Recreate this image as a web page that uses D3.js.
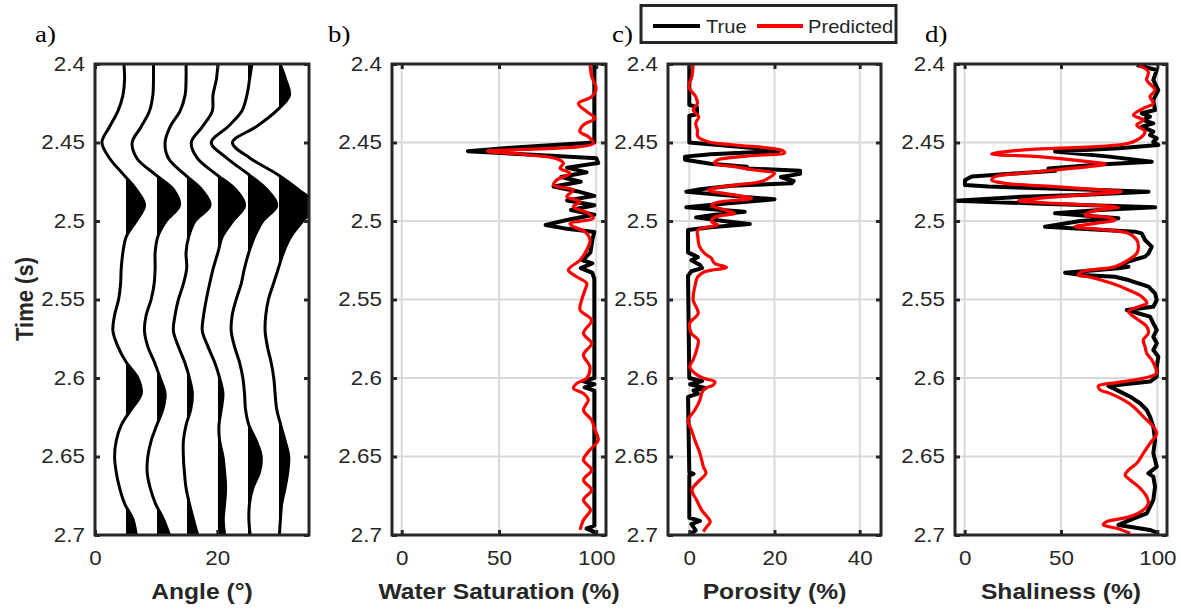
<!DOCTYPE html>
<html>
<head>
<meta charset="utf-8">
<script src="https://cdn.jsdelivr.net/npm/d3@7"></script>
<style>
  html, body { margin: 0; padding: 0; background: #ffffff; }
  svg { display: block; }
</style>
</head>
<body>
<svg id="chart" width="1181" height="612"></svg>
<script>
// ---------------- DATA ----------------
const timeTicks = [2.4, 2.45, 2.5, 2.55, 2.6, 2.65, 2.7];
const timeTickLabels = ["2.4", "2.45", "2.5", "2.55", "2.6", "2.65", "2.7"];

const angleTicks = [0, 20];
const swTicks = [0, 50, 100];
const porTicks = [0, 20, 40];
const shTicks = [0, 50, 100];

const panelLetters = ["a)", "b)", "c)", "d)"];
const axisTitles = ["Angle (°)", "Water Saturation (%)", "Porosity (%)", "Shaliness (%)"];
const legendNames = ["True", "Predicted"];

// seismic angle gather (amplitudes, arbitrary units)
const traceTime = [2.40,2.41,2.42,2.43,2.44,2.45,2.46,2.47,2.48,2.49,2.50,2.51,2.52,2.53,2.54,2.55,2.56,2.57,2.58,2.59,2.60,2.61,2.62,2.63,2.64,2.65,2.66,2.67,2.68,2.69,2.70];
const traceAngles = [5, 10, 15, 20, 25, 30];
const amp05 = [-5,-3,-8,-23,-48,-71,-48,-8,32,57,32,2,-8,-13,-15,-21,-33,-38,-23,2,37,47,17,-13,-28,-33,-28,-18,-3,22,32];
const amp10 = [-8,-8,-10,-20,-45,-72,-58,-5,52,70,30,5,-3,-3,-6,-15,-30,-35,-25,-5,12,27,20,2,-15,-25,-27,-18,-2,22,40];
const amp15 = [-2,-2,-5,-20,-50,-65,-55,-8,45,70,25,6,-2,0,-10,-25,-35,-40,-25,-6,8,17,12,-2,-10,-10,-7,-2,8,20,33];
const amp20 = [2,-3,-13,-15,-45,-78,-60,-5,55,82,47,15,2,-12,-23,-33,-41,-45,-28,-8,7,17,12,5,7,17,22,25,22,18,22];
const amp25 = [12,5,-3,-18,-60,-110,-63,0,57,87,45,20,3,-10,-20,-35,-47,-50,-40,-25,-15,-10,-7,3,25,40,35,15,5,3,7];
const amp30 = [5,22,33,-7,-67,-138,-85,-5,60,110,73,37,15,0,-15,-30,-38,-40,-33,-22,-14,-10,-5,7,20,31,28,20,10,6,3];

// water saturation (%)
const swTrueT = [2.400,2.450,2.453,2.4555,2.458,2.460,2.463,2.466,2.469,2.472,2.475,2.478,2.481,2.484,2.487,2.490,2.493,2.496,2.499,2.5025,2.505,2.507,2.512,2.520,2.525,2.527,2.530,2.533,2.537,2.600,2.602,2.604,2.606,2.608,2.610,2.694,2.696,2.698,2.700];
const swTrueV = [99,99,60,34,70,100,101,85,95,82,92,78,90,99,85,99,87,99,86,74,85,99,98,97,93,98,92,98,99,99,93,99,94,99,99,99,95,99,99];
const swPredT = [2.4007,2.4081,2.4155,2.4208,2.4251,2.4303,2.4346,2.4388,2.4431,2.4463,2.4505,2.4555,2.4575,2.4605,2.4633,2.4664,2.4696,2.4739,2.4771,2.4803,2.4845,2.4877,2.4909,2.4951,2.4983,2.5015,2.5036,2.5068,2.5121,2.5185,2.5248,2.5312,2.5355,2.5397,2.5439,2.5503,2.5567,2.5631,2.5716,2.5779,2.5853,2.5928,2.6002,2.6034,2.6066,2.6098,2.6140,2.6204,2.6268,2.6331,2.6395,2.6459,2.6522,2.6586,2.6650,2.6713,2.6777,2.6841,2.6904,2.6968];
const swPredV = [96.8,97.7,99.9,97.7,90.8,95.1,99.3,93.4,91.6,95.9,98.5,44,62,80,83.1,81.4,86.5,79.7,78.0,88.2,84.8,91.7,88.2,95.9,98.5,86.5,88.2,94.2,96.8,95.1,91.7,85.7,89.9,95.1,94.2,92.5,91.7,97.6,93.4,97.6,93.4,96.7,95.1,90.0,88.3,93.4,95.9,93.4,97.6,99.3,101,96.7,93.4,97.6,93.4,97.6,93.4,97.0,93.4,91.7];

// porosity (%)
const porTrueT = [2.400,2.426,2.4275,2.432,2.433,2.450,2.4535,2.4555,2.4575,2.459,2.461,2.4635,2.4655,2.4665,2.468,2.470,2.472,2.4745,2.476,2.4775,2.480,2.4813,2.484,2.4862,2.489,2.4913,2.4941,2.496,2.4977,2.500,2.5019,2.504,2.5057,2.520,2.523,2.525,2.528,2.530,2.532,2.535,2.600,2.602,2.604,2.6065,2.608,2.610,2.612,2.660,2.661,2.662,2.689,2.691,2.693,2.697,2.700];
const porTrueV = [0,0,1.8,1.8,0,0,15,21,5,-1,-1,5,13.5,13.5,26,26,21.5,24.5,24,10,2,-0.7,10,20,8,-0.7,13,6,1.6,8,14.2,5,-0.3,-0.3,2.0,0.5,2.5,3,0.5,-0.3,0,3,0.2,3.8,1,2,-0.3,0,1,0,0,2.5,0.5,1.5,0];
const porPredT = [2.4007,2.4081,2.4145,2.4208,2.4251,2.4293,2.4335,2.4378,2.4420,2.4463,2.4495,2.4516,2.4548,2.4565,2.4586,2.4611,2.4633,2.4654,2.4675,2.4696,2.4717,2.4749,2.4771,2.4803,2.4834,2.4856,2.4877,2.4898,2.4930,2.4951,2.4977,2.5004,2.5025,2.5057,2.5100,2.5163,2.5206,2.5237,2.5269,2.5295,2.5323,2.5355,2.5418,2.5503,2.5588,2.5652,2.5716,2.5758,2.5822,2.5885,2.5928,2.5970,2.6002,2.6023,2.6045,2.6066,2.6098,2.6140,2.6204,2.6268,2.6331,2.6395,2.6480,2.6565,2.6607,2.6660,2.6713,2.6777,2.6841,2.6915,2.6947,2.6979];
const porPredV = [0.9,0.6,-0.1,1.5,1.9,0.9,2.2,1.5,1.9,2.0,4.4,10.6,21.6,22.4,13.8,6.7,5.9,10.6,15.3,20.0,19.2,16.9,10.6,4.4,10.6,14.6,7.5,5.2,8.3,10.6,5.9,5.2,6.7,2.0,2.0,2.4,3.6,5.2,5.9,8.7,3.6,2.0,1.3,0.9,2.1,0.1,0.5,2.1,1.7,0.9,0.1,1.3,3.3,6.0,5.6,3.7,2.9,2.5,1.3,-0.3,0.5,1.3,2.5,3.3,3.9,2.1,0.6,1.7,2.9,4.9,4.1,3.3];

// shaliness (%)
const shTrueT = [2.4007,2.4038,2.4102,2.4166,2.4229,2.4293,2.4314,2.4335,2.4357,2.4378,2.4399,2.4431,2.4452,2.4473,2.4495,2.4516,2.4537,2.4558,2.4590,2.4622,2.4640,2.4665,2.4680,2.4717,2.4739,2.4771,2.4781,2.4803,2.4813,2.4834,2.4845,2.4871,2.4890,2.4913,2.4930,2.4951,2.4983,2.5000,2.5036,2.5068,2.5079,2.5121,2.5163,2.5206,2.5227,2.5258,2.5280,2.5291,2.5301,2.5329,2.5344,2.5355,2.5376,2.5418,2.5461,2.5503,2.5546,2.5567,2.5609,2.5652,2.5694,2.5737,2.5779,2.5822,2.5864,2.5928,2.5991,2.6023,2.6051,2.6087,2.6119,2.6161,2.6204,2.6246,2.6310,2.6395,2.6480,2.6565,2.6607,2.6628,2.6692,2.6777,2.6862,2.6904,2.6936,2.6968,2.6989];
const shTrueV = [89.3,99.7,97.9,100.5,97.9,98.8,91.9,96.2,92.7,97.9,91.9,97.9,96.2,99.7,97.9,100.5,80,46.9,75,97.1,70,43.5,47,3.7,0.2,0.2,12.3,70,95.4,60,29.6,-4.5,40,98.8,70,46.9,79.8,60,41.7,88.4,91.9,93.6,97.1,95.4,93.6,85.0,81.5,85.0,79.8,52.1,60.8,78.0,85.0,95.4,98.8,99.7,97.9,84.1,96.2,97.9,99.7,97.9,99.7,97.9,100.5,99.7,99.7,96.2,74.6,80.6,85.9,91.0,94.5,96.2,97.9,98.8,97.9,99.7,95.3,97.9,98.8,97.9,94.5,85.9,79.8,96.2,100.5];
const shPredT = [2.4007,2.4049,2.4102,2.4166,2.4208,2.4251,2.4282,2.4325,2.4357,2.4388,2.4431,2.4463,2.4505,2.4548,2.4573,2.4590,2.4622,2.4637,2.4654,2.4675,2.4696,2.4717,2.4739,2.4760,2.4781,2.4803,2.4813,2.4834,2.4856,2.4871,2.4888,2.4913,2.4934,2.4962,2.4977,2.4994,2.5015,2.5036,2.5057,2.5079,2.5121,2.5163,2.5206,2.5248,2.5291,2.5323,2.5344,2.5355,2.5397,2.5439,2.5482,2.5524,2.5546,2.5577,2.5631,2.5673,2.5716,2.5758,2.5801,2.5843,2.5885,2.5928,2.5970,2.6002,2.6029,2.6051,2.6076,2.6098,2.6140,2.6183,2.6246,2.6310,2.6352,2.6416,2.6480,2.6543,2.6586,2.6618,2.6650,2.6692,2.6756,2.6798,2.6841,2.6883,2.6915,2.6936,2.6957,2.6989];
const shPredV = [90.1,95.3,94.5,98.8,96.2,97.9,92.7,87.6,92.7,89.3,93.6,91.9,85.0,29.6,14.0,38.3,64.2,72.9,64.2,46.9,29.6,15.8,14.0,20.9,46.9,72.9,81.5,60.8,38.3,27.9,46.9,79.8,67.7,62.5,74.6,78.0,67.7,57.3,72.9,85.0,89.3,90.2,89.3,85.0,78.0,60.8,59.0,64.2,76.3,85.0,91.9,94.5,90.2,85.0,90.2,94.5,95.3,92.7,93.6,94.5,97.1,98.8,99.7,92.7,78.9,69.4,70.3,75.4,82.4,87.6,92.7,97.9,99.7,96.2,92.7,89.3,85.0,83.3,85.9,90.2,94.5,95.3,92.7,85.9,73.7,71.9,78.9,85.9];

// ---------------- LAYOUT / STYLE ----------------
const INK = "#262626";
const GRID = "#dadada";
const TRUE_C = "#000000";
const PRED_C = "#ff0000";
const FONT = "'Liberation Sans', Arial, Helvetica, sans-serif";
const SERIF = "'Liberation Serif', 'Times New Roman', serif";
const SX = 1.12;            // horizontal stretch of the original figure's text
const yTop = 64, yBot = 535;
const AMP_GAIN = 0.0545;    // degrees of angle offset per amplitude unit

const svg = d3.select("#chart");
const y = d3.scaleLinear().domain([2.4, 2.7]).range([yTop, yBot]);

const panels = [
  { left: 95,  right: 309,  domain: [0, 35],   ticks: angleTicks, grid: false, letterX: 35 },
  { left: 392, right: 606,  domain: [-5, 105], ticks: swTicks,    grid: true,  letterX: 328 },
  { left: 668, right: 881,  domain: [-5, 45],  ticks: porTicks,   grid: true,  letterX: 612 },
  { left: 955, right: 1167, domain: [-5, 105], ticks: shTicks,    grid: true,  letterX: 925 }
];
panels.forEach(p => { p.x = d3.scaleLinear().domain(p.domain).range([p.left, p.right]); });

const defs = svg.append("defs");

function placeText(parent, str, x, yy, opts) {
  return parent.append("text")
    .attr("transform", `translate(${x},${yy}) scale(${SX},1)` + (opts.rotate ? ` rotate(${opts.rotate})` : ""))
    .attr("text-anchor", opts.anchor || "start")
    .attr("font-family", opts.family || FONT)
    .attr("font-size", opts.size)
    .attr("font-weight", opts.weight || "normal")
    .attr("fill", opts.fill || INK)
    .text(str);
}

panels.forEach((p, pi) => {
  const g = svg.append("g");
  const L = p.left, R = p.right;
  defs.append("clipPath").attr("id", "clip" + pi)
    .append("rect").attr("x", L).attr("y", yTop).attr("width", R - L).attr("height", yBot - yTop);

  if (p.grid) {
    const gg = g.append("g").attr("stroke", GRID).attr("stroke-width", 2);
    gg.selectAll("line.gx").data(p.ticks).join("line").attr("class", "gx")
      .attr("x1", d => p.x(d)).attr("x2", d => p.x(d)).attr("y1", yTop).attr("y2", yBot);
    gg.selectAll("line.gy").data(timeTicks).join("line").attr("class", "gy")
      .attr("x1", L).attr("x2", R).attr("y1", d => y(d)).attr("y2", d => y(d));
  }
  p.plot = g.append("g").attr("clip-path", `url(#clip${pi})`);
  p.g = g;
});

// ---------- panel a: wiggle traces ----------
(function () {
  const p = panels[0];
  const traces = [amp05, amp10, amp15, amp20, amp25, amp30];
  const curve = d3.curveCatmullRom.alpha(0.5);
  traces.forEach((amp, i) => {
    const base = traceAngles[i];
    const pts = traceTime.map((t, j) => [t, amp[j]]);
    const bx = p.x(base);
    const cx = Math.ceil(bx);
    defs.append("clipPath").attr("id", "pos" + i)
      .append("rect").attr("x", cx).attr("y", yTop).attr("width", p.right - cx).attr("height", yBot - yTop);
    const area = d3.area().curve(curve)
      .y(d => y(d[0])).x0(bx - 2).x1(d => p.x(base + d[1] * AMP_GAIN));
    const line = d3.line().curve(curve)
      .y(d => y(d[0])).x(d => p.x(base + d[1] * AMP_GAIN));
    p.plot.append("g").attr("clip-path", `url(#pos${i})`)
      .append("path").attr("d", area(pts)).attr("fill", "#000").attr("shape-rendering", "crispEdges");
    p.plot.append("path").attr("d", line(pts))
      .attr("fill", "none").attr("stroke", "#000").attr("stroke-width", 3)
      .attr("stroke-linejoin", "round");
  });
})();

// ---------- panels b, c, d: logs ----------
function drawLog(p, tT, tV, pT, pV) {
  const lineTrue = d3.line().x(d => p.x(d[1])).y(d => y(d[0]));
  const linePred = d3.line().x(d => p.x(d[1])).y(d => y(d[0])).curve(d3.curveCatmullRom.alpha(0.5));
  p.plot.append("path").attr("d", lineTrue(tT.map((t, i) => [t, tV[i]])))
    .attr("fill", "none").attr("stroke", TRUE_C).attr("stroke-width", 4).attr("stroke-linejoin", "round");
  p.plot.append("path").attr("d", linePred(pT.map((t, i) => [t, pV[i]])))
    .attr("fill", "none").attr("stroke", PRED_C).attr("stroke-width", 3.2).attr("stroke-linejoin", "round");
}
drawLog(panels[1], swTrueT, swTrueV, swPredT, swPredV);
drawLog(panels[2], porTrueT, porTrueV, porPredT, porPredV);
drawLog(panels[3], shTrueT, shTrueV, shPredT, shPredV);

// ---------- axes, box, labels ----------
panels.forEach((p, pi) => {
  const g = p.g;
  const L = p.left, R = p.right;
  function style(ax) {
    ax.select(".domain").remove();
    ax.attr("font-family", FONT).attr("font-size", 20);
    ax.selectAll(".tick line").attr("stroke", INK).attr("stroke-width", 3);
    ax.selectAll(".tick text").attr("fill", INK).attr("transform", `scale(${SX},1)`);
  }
  style(g.append("g").attr("transform", `translate(${L},0)`)
    .call(d3.axisLeft(y).tickValues(timeTicks).tickFormat((d, i) => timeTickLabels[i]).tickSize(-5).tickPadding(9)));
  style(g.append("g").attr("transform", `translate(${R},0)`)
    .call(d3.axisRight(y).tickValues(timeTicks).tickFormat("").tickSize(-5)));
  style(g.append("g").attr("transform", `translate(0,${yBot})`)
    .call(d3.axisBottom(p.x).tickValues(p.ticks).tickFormat(d3.format("d")).tickSize(-5).tickPadding(16)));
  style(g.append("g").attr("transform", `translate(0,${yTop})`)
    .call(d3.axisTop(p.x).tickValues(p.ticks).tickFormat("").tickSize(-5)));

  g.append("rect").attr("x", L).attr("y", yTop).attr("width", R - L).attr("height", yBot - yTop)
    .attr("fill", "none").attr("stroke", INK).attr("stroke-width", 3);

  placeText(g, axisTitles[pi], (L + R) / 2, 599, { anchor: "middle", size: 22, weight: "bold" });
  placeText(g, panelLetters[pi], p.letterX, 42, { size: 24, family: SERIF, fill: "#000" });
});

placeText(svg, "Time (s)", 33, 299, { anchor: "middle", size: 22, weight: "bold", rotate: -90 });

// ---------- legend ----------
(function () {
  const lg = svg.append("g");
  lg.append("rect").attr("x", 641).attr("y", 5.5).attr("width", 255).attr("height", 37)
    .attr("fill", "#fff").attr("stroke", INK).attr("stroke-width", 3);
  const items = [
    { name: legendNames[0], color: TRUE_C, x1: 653, x2: 700, tx: 706 },
    { name: legendNames[1], color: PRED_C, x1: 757, x2: 803, tx: 808 }
  ];
  items.forEach(it => {
    lg.append("line").attr("x1", it.x1).attr("x2", it.x2).attr("y1", 26).attr("y2", 26)
      .attr("stroke", it.color).attr("stroke-width", 4);
    placeText(lg, it.name, it.tx, 32.5, { size: 18 });
  });
})();
</script>
</body>
</html>
